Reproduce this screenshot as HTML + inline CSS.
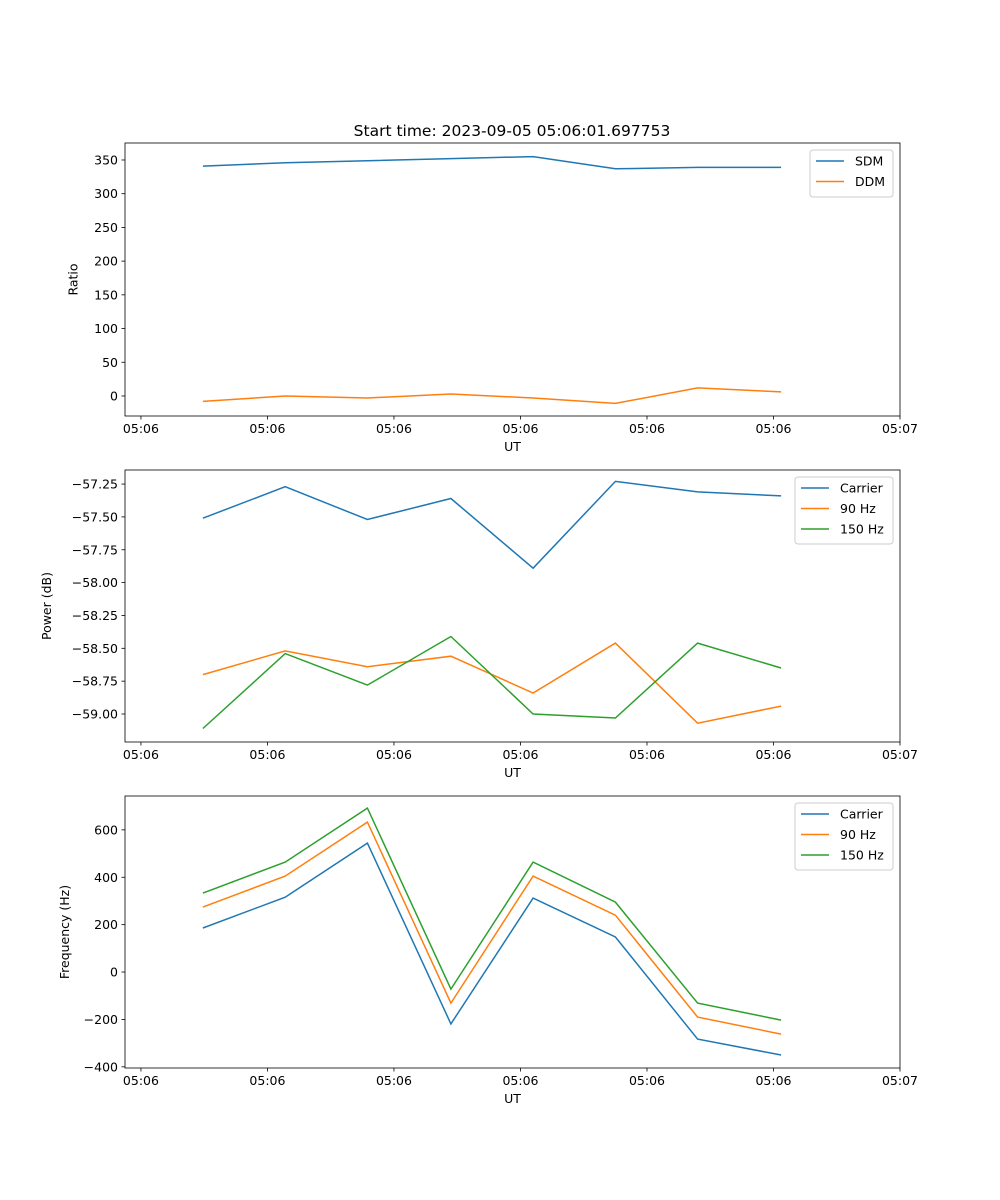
<!DOCTYPE html>
<html><head><meta charset="utf-8"><style>
body{margin:0;background:#fff}
svg{display:block;font-family:"DejaVu Sans","Liberation Sans",sans-serif}
</style></head><body>
<svg id="fig" width="1000" height="1200" viewBox="0 0 1000 1200" xmlns="http://www.w3.org/2000/svg">
<rect width="1000" height="1200" fill="#fff"/>
<text x="512" y="136" font-size="15.5" text-anchor="middle">Start time: 2023-09-05 05:06:01.697753</text>
</svg>
<script>
const times = [4.9, 11.4, 17.9, 24.5, 31.0, 37.5, 44.0, 50.6];
const xTicks = [0, 10, 20, 30, 40, 50, 60];
const xTickLabels = ["05:06","05:06","05:06","05:06","05:06","05:06","05:07"];
const sdm = [341, 346, 349, 352, 355, 337, 339, 339];
const ddm = [-8, 0, -3, 3, -3, -11, 12, 6];
const powCarrier = [-57.51, -57.27, -57.52, -57.36, -57.89, -57.23, -57.31, -57.34];
const pow90 = [-58.70, -58.52, -58.64, -58.56, -58.84, -58.46, -59.07, -58.94];
const pow150 = [-59.11, -58.54, -58.78, -58.41, -59.00, -59.03, -58.46, -58.65];
const freqCarrier = [186, 316, 544, -219, 312, 148, -283, -350];
const freq90 = [274, 405, 633, -131, 405, 240, -190, -262];
const freq150 = [333, 464, 692, -72, 464, 295, -131, -203];
const ticks1 = [0, 50, 100, 150, 200, 250, 300, 350];
const ticks2 = [-59.00, -58.75, -58.50, -58.25, -58.00, -57.75, -57.50, -57.25];
const ticks3 = [-400, -200, 0, 200, 400, 600];

const NS = "http://www.w3.org/2000/svg";
const svg = document.getElementById("fig");
const C = ["#1f77b4", "#ff7f0e", "#2ca02c"];
const L = 125, R = 900, xMin = -1.26, xMax = 60;
function xs(t){ return L + (t - xMin) / (xMax - xMin) * (R - L); }
function mk(tag, attrs, parent){ const e = document.createElementNS(NS, tag); for (const k in attrs) e.setAttribute(k, attrs[k]); (parent || svg).appendChild(e); return e; }

function panel(name, top, bottom, yMin, yMax, yTicks, fmt, yLabel, series, labels, legend){
  const g = mk("g", {});
  
  
  const ys = v => bottom - (v - yMin) / (yMax - yMin) * (bottom - top);
  series.forEach((s, i) => {
    const pts = s.map((v, j) => xs(times[j]).toFixed(1) + "," + ys(v).toFixed(1)).join(" ");
    const p = mk("polyline", {points: pts, fill: "none", stroke: C[i], "stroke-width": 1.5}, g);
    
    
  });
  mk("rect", {x: L, y: top, width: R - L, height: bottom - top, fill: "none", stroke: "#000", "stroke-width": 0.8}, g);
  xTicks.forEach((t, i) => {
    const x = xs(t);
    mk("line", {x1: x, x2: x, y1: bottom, y2: bottom + 3.5, stroke: "#000", "stroke-width": 0.8}, g);
    const tx = mk("text", {x: x, y: bottom + 17, "font-size": 12.5, "text-anchor": "middle"}, g);
    tx.textContent = xTickLabels[i];
    
    
  });
  const xl = mk("text", {x: (L + R) / 2, y: bottom + 35, "font-size": 12.5, "text-anchor": "middle"}, g);
  xl.textContent = "UT";
  
  
  let maxW = 0;
  yTicks.forEach(v => {
    const y = ys(v);
    mk("line", {x1: L - 3.5, x2: L, y1: y, y2: y, stroke: "#000", "stroke-width": 0.8}, g);
    const s = fmt(v); maxW = Math.max(maxW, s.length);
    const tx = mk("text", {x: L - 7, y: y + 4.5, "font-size": 12.5, "text-anchor": "end"}, g);
    tx.textContent = s;
    
    
  });
  const yx = L - 25 - maxW * 8.8 + 4;
  const yl = mk("text", {x: yx, y: (top + bottom) / 2, "font-size": 12.5, "text-anchor": "middle", transform: "rotate(-90 " + yx + " " + (top + bottom) / 2 + ")"}, g);
  yl.textContent = yLabel;
  
  
  const lg = mk("g", {}, g);
  
  
  mk("rect", {x: legend.x, y: top + 7, width: legend.w, height: 7 + labels.length * 20, rx: 3, fill: "#fff", stroke: "#ccc", "stroke-width": 1}, lg);
  labels.forEach((lab, i) => {
    const y = top + 18 + i * 20.5;
    mk("line", {x1: legend.x + 6, x2: legend.x + 34, y1: y, y2: y, stroke: C[i], "stroke-width": 1.5}, lg);
    const t = mk("text", {x: legend.x + 45, y: y + 4.5, "font-size": 12.5}, lg);
    t.textContent = lab;
    
    
  });
}
panel("ratio-panel", 143, 416, -29.7, 375.2, ticks1, v => String(v), "Ratio", [sdm, ddm], ["SDM", "DDM"], {x: 810, w: 83});
panel("power-panel", 470, 742, -59.213, -57.143, ticks2, v => "\u2212" + Math.abs(v).toFixed(2), "Power (dB)", [powCarrier, pow90, pow150], ["Carrier", "90 Hz", "150 Hz"], {x: 795, w: 98});
panel("frequency-panel", 796, 1068, -405, 743, ticks3, v => (v < 0 ? "\u2212" : "") + Math.abs(v), "Frequency (Hz)", [freqCarrier, freq90, freq150], ["Carrier", "90 Hz", "150 Hz"], {x: 795, w: 98});
</script>
</body></html>
